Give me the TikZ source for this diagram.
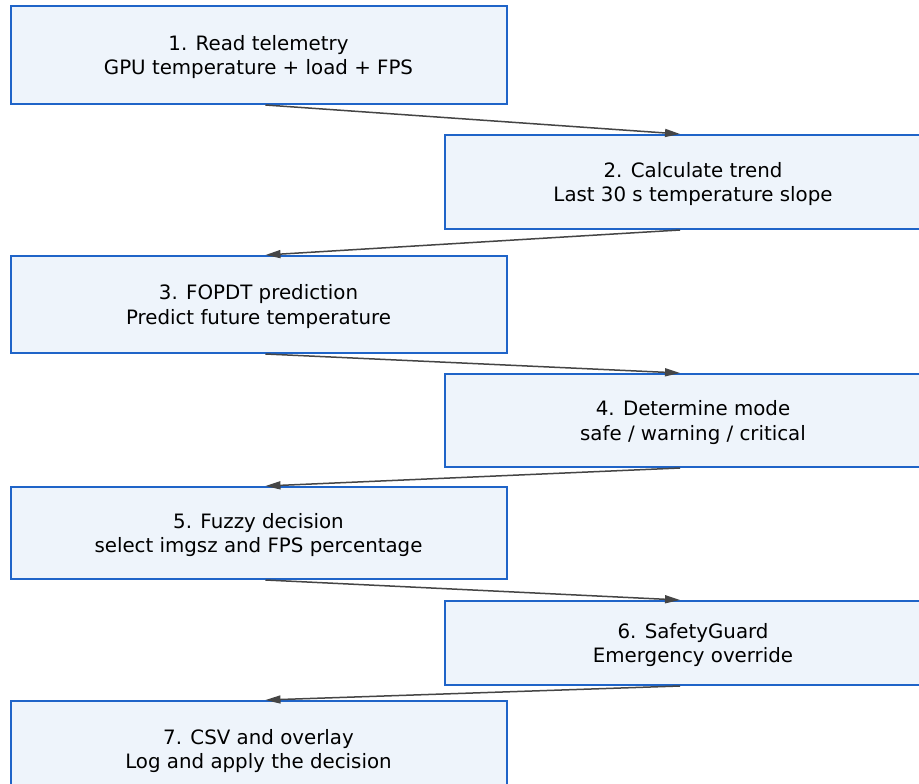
\documentclass[tikz,border=0pt]{standalone}
\usepackage{fontspec}
\setmainfont{DejaVu Sans}
\usetikzlibrary{arrows.meta}
\definecolor{boxblue}{HTML}{1F64C8}
\definecolor{boxfill}{HTML}{EEF4FB}
\definecolor{arrowgray}{HTML}{454545}
\tikzset{
    stepbox/.style={draw=boxblue,fill=boxfill,line width=2pt,minimum width=496pt,
        align=center,font=\fontsize{19.8}{24.5}\selectfont,inner sep=0pt,text depth=-9pt},
    flow/.style={draw=arrowgray,line width=1.5pt,-{Triangle[length=15pt,width=8pt]}}
}
\begin{document}
\begin{tikzpicture}[x=1pt,y=1pt]

    % Cornice
    \useasboundingbox (0,0) rectangle (919,-784);
    \fill[white] (0,0) rectangle (919,-784);

    % Passi
    \node[stepbox,minimum height=98pt] (read) at (258.5,-55) {1. Read telemetry\\GPU temperature + load + FPS};
    \node[stepbox,minimum height=94pt] (trend) at (693,-182) {2. Calculate trend\\Last 30 s temperature slope};
    \node[stepbox,minimum height=97pt] (fopdt) at (258.5,-304.5) {3. FOPDT prediction\\Predict future temperature};
    \node[stepbox,minimum height=93pt] (mode) at (693,-420.5) {4. Determine mode\\safe / warning / critical};
    \node[stepbox,minimum height=92pt] (fuzzy) at (258.5,-533) {5. Fuzzy decision\\select imgsz and FPS percentage};
    \node[stepbox,minimum height=84pt] (guard) at (693,-643) {6. SafetyGuard\\Emergency override};
    \node[stepbox,minimum height=96pt] (csv) at (258.5,-749) {7. CSV and overlay\\Log and apply the decision};

    % Frecce
    \foreach \a/\b in {read/trend,fopdt/mode,fuzzy/guard} {
        \draw[flow] ([xshift=7pt]\a.south) -- ([xshift=-13pt]\b.north);
    }
    \foreach \a/\b in {trend/fopdt,mode/fuzzy,guard/csv} {
        \draw[flow] ([xshift=-13pt]\a.south) -- ([xshift=7pt]\b.north);
    }

\end{tikzpicture}
\end{document}
